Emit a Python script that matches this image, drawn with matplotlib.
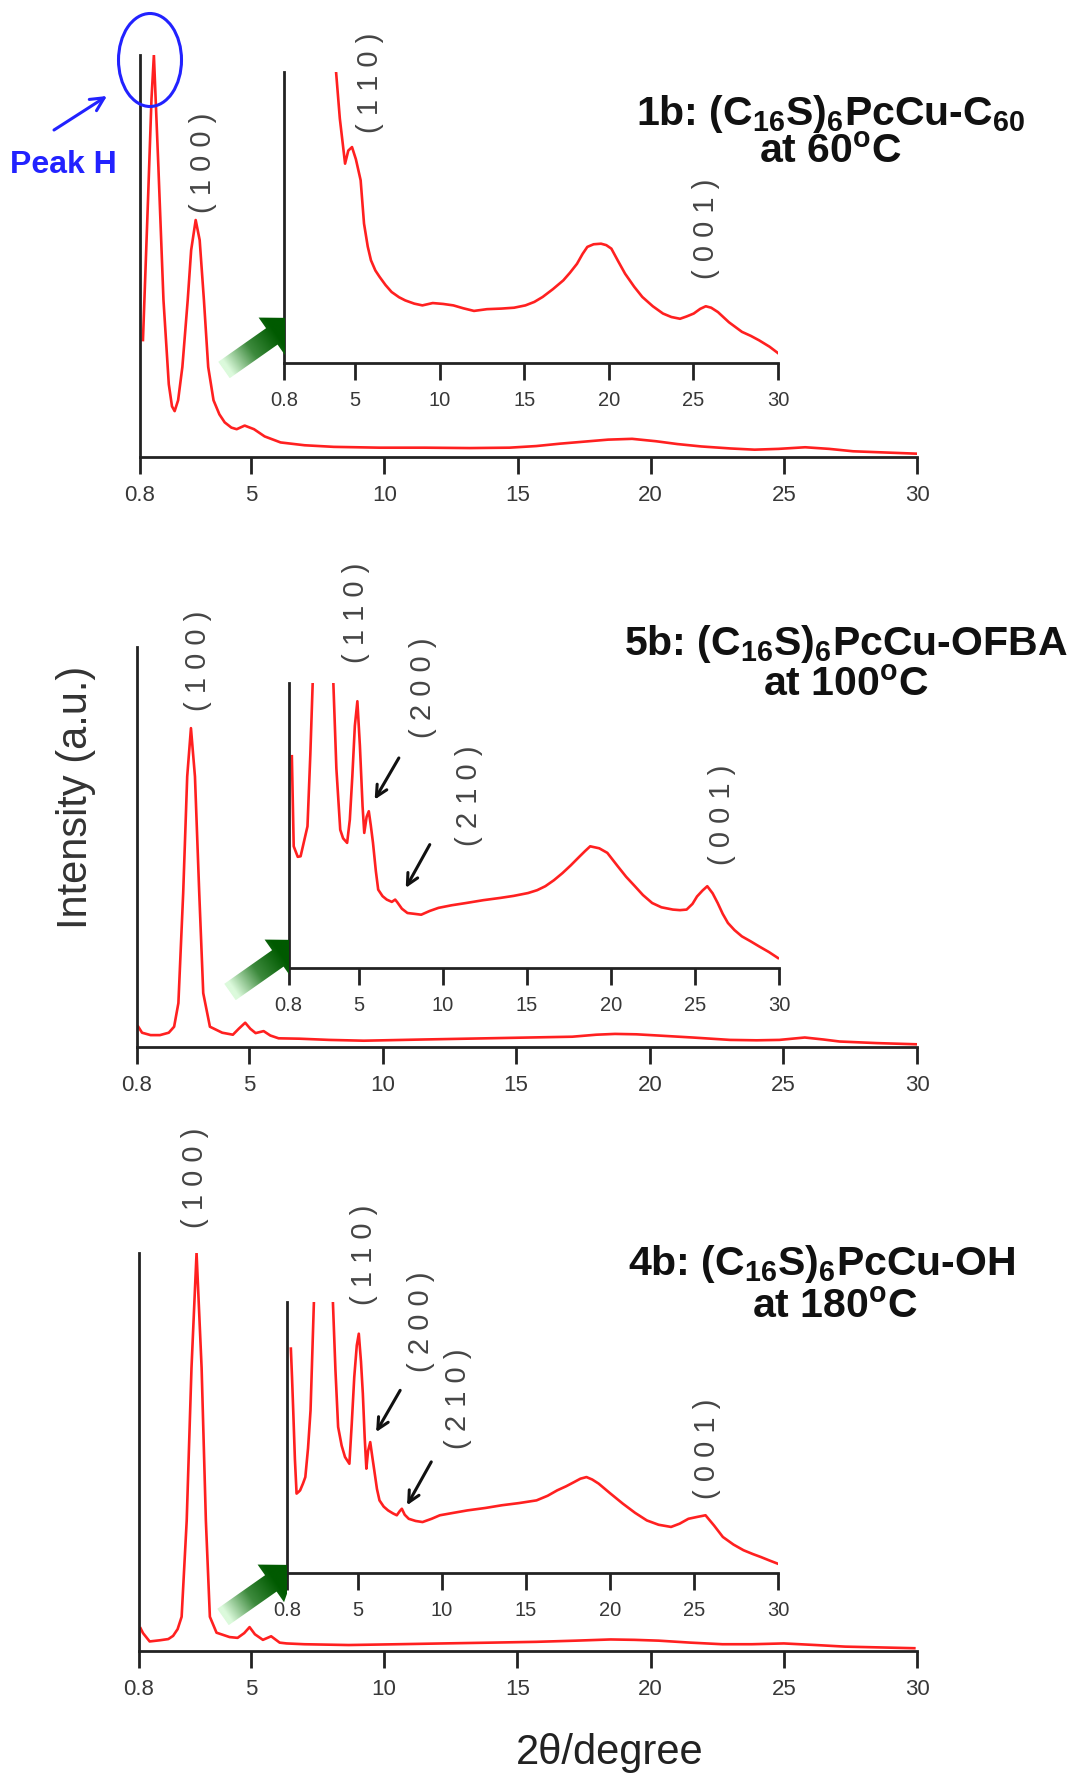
import numpy as np
import matplotlib
matplotlib.use('Agg')
import matplotlib.pyplot as plt
from matplotlib.patches import Ellipse, Polygon
from matplotlib.colors import LinearSegmentedColormap

plt.rcParams['font.family'] = ['Liberation Sans', 'DejaVu Sans']
plt.rcParams['mathtext.fontset'] = 'custom'
plt.rcParams['mathtext.rm'] = 'Liberation Sans'
plt.rcParams['mathtext.bf'] = 'Liberation Sans:bold'
plt.rcParams['mathtext.it'] = 'Liberation Sans:italic'

# ---- data (intensity as fraction of axis height) ----
ticks = [0.8, 5, 10, 15, 20, 25, 30]
tick_labels = ['0.8', '5', '10', '15', '20', '25', '30']

# 1b main
m1_x = [0.93, 1.12, 1.25, 1.34, 1.51, 1.7, 1.9, 2.02, 2.12, 2.25, 2.41, 2.61, 2.74, 2.91, 3.06, 3.22,
        3.38, 3.58, 3.8, 4.0, 4.25, 4.45, 4.75, 5.1, 5.5, 6.1, 7.0, 8.1, 9.8, 11.5, 13.2, 14.7,
        15.7, 16.6, 17.5, 18.4, 19.3, 20.2, 21.0, 21.9, 23.0, 23.9, 24.8, 25.8, 26.7, 27.6, 28.8, 30.0]
m1_y = [0.29, 0.64, 0.89, 1.0, 0.72, 0.39, 0.18, 0.125, 0.113, 0.14, 0.223, 0.389, 0.514, 0.589, 0.539, 0.389,
        0.223, 0.14, 0.105, 0.085, 0.072, 0.068, 0.077, 0.068, 0.05, 0.035, 0.028, 0.024, 0.022, 0.022, 0.021, 0.022,
        0.026, 0.032, 0.037, 0.042, 0.044, 0.038, 0.031, 0.025, 0.02, 0.017, 0.019, 0.023, 0.019, 0.013, 0.01, 0.007]

# 1b inset
i1_x = [3.85, 4.1, 4.41, 4.6, 4.82, 5.05, 5.33, 5.53, 5.75, 5.94, 6.2, 6.45, 6.8, 7.16, 7.6, 7.97, 8.5,
        8.98, 9.59, 10.2, 10.81, 11.4, 12.03, 12.8, 13.65, 14.4, 15.07, 15.6, 16.09, 16.7, 17.31, 17.7,
        18.12, 18.45, 18.73, 19.1, 19.54, 19.85, 20.15, 20.55, 20.96, 21.5, 21.98, 22.6, 23.2, 23.7,
        24.21, 24.6, 25.02, 25.4, 25.73, 26.05, 26.45, 27.1, 27.87, 28.4, 28.88, 29.5, 30.0]
i1_y = [1.02, 0.84, 0.685, 0.73, 0.742, 0.70, 0.628, 0.479, 0.40, 0.353, 0.318, 0.296, 0.268, 0.244, 0.226, 0.215, 0.204,
        0.198, 0.206, 0.203, 0.198, 0.188, 0.179, 0.185, 0.187, 0.19, 0.198, 0.21, 0.227, 0.254, 0.284, 0.31,
        0.341, 0.375, 0.399, 0.408, 0.41, 0.405, 0.393, 0.35, 0.307, 0.262, 0.227, 0.195, 0.17, 0.158,
        0.152, 0.16, 0.17, 0.186, 0.195, 0.19, 0.175, 0.14, 0.107, 0.093, 0.078, 0.056, 0.034]

# 5b main
m2_x = [0.86, 1.0, 1.32, 1.67, 2.0, 2.2, 2.36, 2.54, 2.69, 2.83, 2.98, 3.14, 3.29, 3.54, 4.0, 4.4, 4.62,
        4.86, 5.05, 5.25, 5.55, 5.8, 6.11, 6.9, 8.0, 9.3, 11.5, 13.9, 15.5, 17.1, 18.0, 18.7, 19.5, 20.3,
        21.6, 23.0, 24.0, 24.85, 25.8, 26.5, 27.1, 28.5, 30.0]
m2_y = [0.05, 0.035, 0.029, 0.029, 0.035, 0.05, 0.109, 0.385, 0.676, 0.797, 0.676, 0.385, 0.134, 0.05, 0.035, 0.03, 0.045,
        0.06, 0.045, 0.034, 0.039, 0.028, 0.021, 0.02, 0.017, 0.015, 0.018, 0.021, 0.023, 0.025, 0.03, 0.032, 0.031, 0.028,
        0.023, 0.017, 0.016, 0.017, 0.023, 0.018, 0.013, 0.009, 0.006]

# 5b inset
i2_x = [1.0, 1.11, 1.35, 1.52, 1.93, 2.1, 2.24, 2.5, 2.85, 3.2, 3.47, 3.65, 3.88, 4.05, 4.29, 4.45, 4.6,
        4.75, 4.9, 5.05, 5.21, 5.31, 5.45, 5.58, 5.7, 5.83, 6.0, 6.14, 6.4, 6.65, 6.95, 7.15, 7.26, 7.55,
        7.88, 8.3, 8.7, 9.2, 9.73, 10.5, 11.37, 12.4, 13.42, 14.2, 15.06, 15.6, 16.09, 16.6, 17.11, 17.6,
        18.14, 18.45, 18.76, 19.3, 19.78, 20.4, 20.9, 21.42, 21.9, 22.45, 23.0, 23.68, 24.1, 24.5, 24.85,
        25.12, 25.45, 25.73, 26.05, 26.35, 26.65, 26.96, 27.35, 27.79, 28.3, 28.81, 29.4, 29.94]
i2_y = [0.743, 0.427, 0.39, 0.392, 0.497, 0.75, 1.0, 1.8, 3.0, 1.8, 1.0, 0.7, 0.485, 0.455, 0.439, 0.52, 0.673,
        0.85, 0.936, 0.78, 0.567, 0.474, 0.53, 0.55, 0.5, 0.439, 0.34, 0.275, 0.252, 0.24, 0.232, 0.24, 0.232, 0.208,
        0.193, 0.19, 0.187, 0.2, 0.211, 0.22, 0.228, 0.238, 0.246, 0.253, 0.263, 0.273, 0.287, 0.308, 0.333, 0.36,
        0.392, 0.41, 0.427, 0.42, 0.404, 0.357, 0.32, 0.287, 0.256, 0.228, 0.213, 0.205, 0.203, 0.205, 0.225,
        0.251, 0.272, 0.287, 0.262, 0.228, 0.19, 0.158, 0.133, 0.111, 0.094, 0.076, 0.056, 0.035]

# 4b main
m3_x = [0.86, 0.95, 1.2, 1.59, 1.9, 2.08, 2.25, 2.4, 2.59, 2.77, 2.96, 3.15, 3.31, 3.46, 3.71, 4.2, 4.5,
        4.75, 4.95, 5.15, 5.45, 5.76, 6.08, 6.34, 7.0, 8.67, 10.5, 12.2, 14.0, 15.7, 17.2, 18.5, 19.4,
        20.3, 21.5, 22.7, 23.8, 25.0, 26.2, 27.3, 28.6, 29.9]
m3_y = [0.057, 0.045, 0.024, 0.027, 0.03, 0.038, 0.055, 0.086, 0.327, 0.711, 1.0, 0.711, 0.327, 0.086, 0.046, 0.035, 0.033,
        0.045, 0.06, 0.042, 0.028, 0.037, 0.021, 0.019, 0.017, 0.015, 0.017, 0.019, 0.021, 0.023, 0.026, 0.029, 0.028,
        0.026, 0.021, 0.017, 0.017, 0.019, 0.015, 0.011, 0.009, 0.007]

# 4b inset
i3_x = [1.03, 1.1, 1.17, 1.27, 1.37, 1.5, 1.58, 1.75, 1.89, 2.05, 2.2, 2.4, 2.65, 2.96, 3.25, 3.53, 3.68,
        3.84, 4.05, 4.25, 4.51, 4.65, 4.8, 4.95, 5.07, 5.2, 5.31, 5.42, 5.52, 5.62, 5.75, 5.87, 5.99, 6.15,
        6.3, 6.55, 6.81, 7.1, 7.33, 7.5, 7.63, 7.8, 8.04, 8.45, 8.86, 9.4, 9.89, 10.7, 11.53, 12.6, 13.58,
        14.6, 15.64, 16.3, 16.87, 17.4, 17.89, 18.25, 18.61, 18.95, 19.33, 20.0, 20.77, 21.5, 22.2, 22.9,
        23.64, 24.15, 24.67, 25.2, 25.69, 26.2, 26.72, 27.35, 27.95, 28.5, 28.98, 29.5, 30.0]
i3_y = [0.828, 0.72, 0.6, 0.42, 0.293, 0.3, 0.305, 0.33, 0.354, 0.46, 0.6, 1.0, 1.8, 3.0, 1.8, 1.0, 0.75,
        0.539, 0.47, 0.428, 0.403, 0.55, 0.723, 0.84, 0.883, 0.78, 0.662, 0.5, 0.385, 0.45, 0.483, 0.43, 0.379, 0.31,
        0.268, 0.245, 0.231, 0.22, 0.213, 0.228, 0.237, 0.215, 0.2, 0.192, 0.188, 0.2, 0.213, 0.222, 0.231, 0.24, 0.25,
        0.258, 0.268, 0.285, 0.305, 0.32, 0.336, 0.348, 0.354, 0.345, 0.33, 0.295, 0.256, 0.222, 0.194, 0.178,
        0.17, 0.182, 0.2, 0.207, 0.213, 0.175, 0.133, 0.105, 0.084, 0.07, 0.059, 0.046, 0.034]

# hkl labels: (text, x, bottom of label)
lab_m1 = [('( 1 0 0 )', 3.18, 0.606)]
lab_i1 = [('( 1 1 0 )', 5.9, 0.79), ('( 0 0 1 )', 25.75, 0.29)]
lab_m2 = [('( 1 0 0 )', 3.1, 0.839)]
lab_i2 = [('( 1 1 0 )', 4.84, 1.07), ('( 2 0 0 )', 8.8, 0.807), ('( 2 1 0 )', 11.57, 0.427), ('( 0 0 1 )', 26.6, 0.363)]
lab_m3 = [('( 1 0 0 )', 2.89, 1.062)]
lab_i3 = [('( 1 1 0 )', 5.4, 0.988), ('( 2 0 0 )', 8.74, 0.742), ('( 2 1 0 )', 10.96, 0.459), ('( 0 0 1 )', 25.8, 0.274)]

# small arrows in insets: (tail, head)
arr_i2 = [((7.37, 0.737), (5.93, 0.591)), ((9.21, 0.433), (7.78, 0.281))]
arr_i3 = [((7.53, 0.674), (6.10, 0.52)), ((9.38, 0.41), (7.94, 0.25))]

titles = [(r'1b: (C$_{\mathbf{16}}$S)$_{\mathbf{6}}$PcCu-C$_{\mathbf{60}}$', r'at 60$^{\mathbf{o}}$C'),
          (r'5b: (C$_{\mathbf{16}}$S)$_{\mathbf{6}}$PcCu-OFBA', r'at 100$^{\mathbf{o}}$C'),
          (r'4b: (C$_{\mathbf{16}}$S)$_{\mathbf{6}}$PcCu-OH', r'at 180$^{\mathbf{o}}$C')]

# ---- figure ----
W, H = 1077, 1777
fig = plt.figure(figsize=(W / 100, H / 100), dpi=100)


def box(l, t, r, b):
    return [l / W, 1 - b / H, (r - l) / W, (b - t) / H]


def style(ax, size):
    for s in ['top', 'right']:
        ax.spines[s].set_visible(False)
    for s in ['left', 'bottom']:
        ax.spines[s].set_color('#222222')
        ax.spines[s].set_linewidth(2.0)
    ax.set_xlim(0.8, 30)
    ax.set_ylim(0, 1)
    ax.set_xticks(ticks)
    ax.set_xticklabels(tick_labels)
    ax.set_yticks([])
    ax.tick_params(axis='x', direction='out', length=12.5, width=2.0, color='#222222',
                   labelsize=size, labelcolor='#383838', pad=8)
    ax.patch.set_alpha(0)


def hkl(ax, labels):
    for txt, x, y in labels:
        ax.text(x, y, txt, rotation=90, ha='center', va='bottom', fontsize=21,
                color='#454545', clip_on=False)


red = '#ff2020'
panels = [
    ((139.5, 55, 917, 456.5), (284, 72, 778, 363), m1_x, m1_y, i1_x, i1_y, lab_m1, lab_i1, []),
    ((136.7, 647, 917, 1046.7), (288.5, 683, 779, 968), m2_x, m2_y, i2_x, i2_y, lab_m2, lab_i2, arr_i2),
    ((139, 1253, 917, 1651), (287, 1302, 778, 1573), m3_x, m3_y, i3_x, i3_y, lab_m3, lab_i3, arr_i3),
]

for mb, ib, mx, my, ix, iy, lm, li, arrs in panels:
    ax = fig.add_axes(box(*mb))
    style(ax, 16)
    ax.plot(mx, my, color=red, lw=1.9)
    hkl(ax, lm)
    ins = fig.add_axes(box(*ib))
    style(ins, 14.5)
    ins.plot(ix, iy, color=red, lw=1.9)
    hkl(ins, li)
    for tail, head in arrs:
        ins.annotate('', xy=head, xytext=tail,
                     arrowprops=dict(arrowstyle='->', color='#111111', lw=2.2, mutation_scale=20,
                                     shrinkA=0, shrinkB=0))

# overlay in pixel coordinates
ov = fig.add_axes([0, 0, 1, 1])
ov.set_xlim(0, W)
ov.set_ylim(H, 0)
ov.axis('off')
ov.patch.set_alpha(0)

green = LinearSegmentedColormap.from_list('g', ['#dcfadc', '#3d8a3d', '#005a00'])


def block_arrow(tail, tip, xmax, shaft=20, head_w=46, head_l=32):
    tail = np.array(tail, float)
    tip = np.array(tip, float)
    L = np.linalg.norm(tip - tail)
    d = (tip - tail) / L
    n = np.array([-d[1], d[0]])
    base = tip - head_l * d
    pts = np.array([tail + n * shaft / 2, base + n * shaft / 2, base + n * head_w / 2, tip,
                    base - n * head_w / 2, base - n * shaft / 2, tail - n * shaft / 2])
    poly = Polygon(pts, closed=True, facecolor='none', edgecolor='none')
    ov.add_patch(poly)
    x0, y0 = pts.min(axis=0)
    x1, y1 = pts.max(axis=0)
    x1 = min(x1, xmax)
    gx, gy = np.meshgrid(np.linspace(x0, x1, 200), np.linspace(y0, y1, 200))
    proj = ((gx - tail[0]) * d[0] + (gy - tail[1]) * d[1]) / L
    im = ov.imshow(proj, extent=(x0, x1, y1, y0), origin='upper', cmap=green, vmin=0.05, vmax=0.7,
                   interpolation='bilinear', aspect='auto')
    im.set_clip_path(poly)


block_arrow((224, 370), (298, 318), 285)
block_arrow((230, 992), (304, 940), 289)
block_arrow((223, 1617), (297, 1565), 287)

# Peak H annotation
ov.add_patch(Ellipse((150, 60), 63, 93, fill=False, ec='#2222ff', lw=2.2))
ov.annotate('', xy=(107, 96), xytext=(54, 130),
            arrowprops=dict(arrowstyle='->', color='#2222ff', lw=2.2, mutation_scale=24,
                            shrinkA=0, shrinkB=0))
ov.text(63, 173, 'Peak H', ha='center', va='baseline', color='#2222ff', fontsize=23, fontweight='bold')

# titles
title_pos = [((831, 125), (830, 162)), ((846, 655), (846, 695)), ((822, 1275), (835, 1317))]
for (l1, l2), ((x1, y1), (x2, y2)) in zip(titles, title_pos):
    ov.text(x1, y1, l1, ha='center', va='baseline', fontsize=29.5, fontweight='bold', color='#111111')
    ov.text(x2, y2, l2, ha='center', va='baseline', fontsize=29.5, fontweight='bold', color='#111111')

ov.text(76, 797, 'Intensity (a.u.)', rotation=90, ha='center', va='center', fontsize=30, color='#333333')
ov.text(610, 1753, '2θ/degree', ha='center', va='center', fontsize=30, color='#222222')

ov.set_xlim(0, W)
ov.set_ylim(H, 0)

fig.savefig('out.png', dpi=100)
